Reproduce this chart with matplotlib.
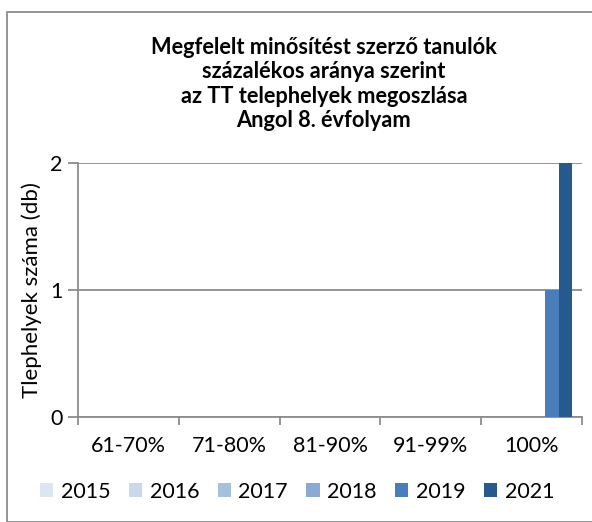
import matplotlib.pyplot as plt
import matplotlib.patches as patches
import numpy as np

plt.rcParams['font.family'] = ['Lato', 'DejaVu Sans']

categories = ['61-70%', '71-80%', '81-90%', '91-99%', '100%']
years = ['2015', '2016', '2017', '2018', '2019', '2021']
values = {
    '2015': [0, 0, 0, 0, 0],
    '2016': [0, 0, 0, 0, 0],
    '2017': [0, 0, 0, 0, 0],
    '2018': [0, 0, 0, 0, 0],
    '2019': [0, 0, 0, 0, 1],
    '2021': [0, 0, 0, 0, 2],
}
colors = ['#DCE6F2', '#C9D8EB', '#A7C0DE', '#8AAAD3', '#4A7EBB', '#265A8C']

title = ('Megfelelt minősítést szerző tanulók\n'
         'százalékos aránya szerint\n'
         'az TT telephelyek megoszlása\n'
         'Angol 8. évfolyam')

fig = plt.figure(figsize=(5.92, 5.22), dpi=100)
W, H = 592, 522

# outer chart border (cropped at right / bottom)
fig.add_artist(patches.Rectangle((7 / W, 0), 1.0, 1 - 12 / H, transform=fig.transFigure,
                                 fill=False, edgecolor='#8C8C8C', linewidth=1.3))

ax = fig.add_axes([78 / W, 1 - 417 / H, (582 - 78) / W, (417 - 163) / H])

x = np.arange(len(categories))
w = 0.134
for i, (yr, col) in enumerate(zip(years, colors)):
    ax.bar(x + (i - 2.5) * w, values[yr], width=w, color=col, label=yr, zorder=3)

ax.set_xlim(-0.5, len(categories) - 0.5)
ax.set_ylim(0, 2)
ax.set_yticks([0, 1, 2])
ax.set_xticks(x)
ax.set_xticklabels(categories)
ax.set_xticks(np.arange(len(categories) + 1) - 0.5, minor=True)
ax.tick_params(axis='x', which='major', length=0, pad=14, labelsize=15.5)
ax.tick_params(axis='x', which='minor', length=6, width=1.3, color='#8C8C8C')
ax.tick_params(axis='y', length=7, width=1.3, color='#8C8C8C', pad=4, labelsize=15.5)

ax.yaxis.grid(True, color='#8C8C8C', linewidth=1.3, zorder=0)
for s in ['top', 'right']:
    ax.spines[s].set_visible(False)
for s in ['left', 'bottom']:
    ax.spines[s].set_color('#8C8C8C')
    ax.spines[s].set_linewidth(1.3)

ax.set_ylabel('Tlephelyek száma (db)', fontsize=16)
ax.yaxis.set_label_coords(-0.072, 0.5)

fig.text(324 / W, 1 - 84 / H, title, ha='center', va='center',
         fontsize=15.7, fontweight='bold', linespacing=1.18)

fig.legend(loc='center', bbox_to_anchor=(0.502, 1 - 492 / H), ncol=6, frameon=False,
           fontsize=15.5, handlelength=0.62, handleheight=0.62, handletextpad=0.35,
           columnspacing=0.85)

fig.savefig('out.png', dpi=100)
